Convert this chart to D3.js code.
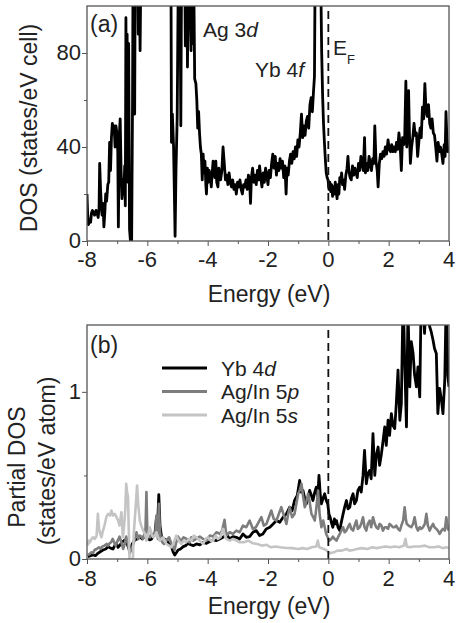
<!DOCTYPE html>
<html>
<head>
<meta charset="utf-8">
<script src="https://cdn.jsdelivr.net/npm/d3@7"></script>
<style>
  html, body { margin: 0; padding: 0; background: #fff; }
  svg { display: block; font-family: "Liberation Sans", Arial, sans-serif; }
</style>
</head>
<body>
<div id="chart"></div>
<script>
// Panel (a): total DOS, [energy eV, states/eV cell]
const dosTotal = [
  [-8.00, 20], [-7.98, 12], [-7.95, 7], [-7.92, 9], [-7.88, 8], [-7.85, 12], [-7.82, 13], [-7.78, 12],
  [-7.75, 11], [-7.72, 12], [-7.70, 13], [-7.67, 12], [-7.63, 10], [-7.60, 14], [-7.58, 33], [-7.55, 22],
  [-7.52, 14], [-7.50, 11], [-7.47, 16], [-7.44, 6], [-7.41, 12], [-7.38, 20], [-7.35, 17], [-7.31, 24],
  [-7.28, 25], [-7.25, 42], [-7.22, 30], [-7.19, 44], [-7.16, 50], [-7.13, 46], [-7.10, 49], [-7.07, 40],
  [-7.04, 49], [-7.01, 46], [-6.98, 38], [-6.96, 6], [-6.93, 45], [-6.90, 52], [-6.87, 30], [-6.84, 18],
  [-6.81, 26], [-6.78, 20], [-6.75, 32], [-6.73, 15], [-6.71, 95], [-6.69, 40], [-6.67, 88], [-6.64, 25],
  [-6.62, 84], [-6.59, 5], [-6.56, 0], [-6.52, 0], [-6.49, 60], [-6.47, 130], [-6.44, 110], [-6.42, 54],
  [-6.40, 120], [-6.36, 105], [-6.33, 130], [-6.30, 88], [-6.27, 115], [-6.24, 81], [-6.21, 120], [-6.18, 110],
  [-6.15, 130], [-6.05, 160], [-5.90, 200], [-5.70, 240], [-5.50, 220], [-5.35, 180], [-5.25, 140], [-5.22, 130],
  [-5.20, 42], [-5.17, 54], [-5.13, 40], [-5.08, 2], [-5.05, 30], [-5.01, 53], [-4.97, 120], [-4.93, 140],
  [-4.89, 49], [-4.86, 130], [-4.82, 110], [-4.78, 150], [-4.74, 83], [-4.70, 130], [-4.67, 74], [-4.63, 120],
  [-4.59, 110], [-4.55, 81], [-4.52, 130], [-4.49, 84], [-4.46, 110], [-4.43, 69], [-4.39, 67], [-4.36, 60],
  [-4.33, 48], [-4.30, 55], [-4.27, 46], [-4.24, 40], [-4.21, 37], [-4.18, 26], [-4.15, 37], [-4.12, 29],
  [-4.09, 34], [-4.06, 24], [-4.04, 20], [-4.01, 31], [-3.98, 25], [-3.95, 30], [-3.92, 28], [-3.88, 23],
  [-3.85, 29], [-3.82, 34], [-3.79, 30], [-3.76, 27], [-3.73, 34], [-3.70, 25], [-3.66, 23], [-3.63, 31],
  [-3.60, 28], [-3.57, 26], [-3.53, 30], [-3.49, 40], [-3.45, 33], [-3.41, 26], [-3.37, 28], [-3.33, 24],
  [-3.29, 29], [-3.25, 25], [-3.21, 23], [-3.17, 26], [-3.13, 22], [-3.09, 24], [-3.05, 20], [-3.01, 25],
  [-2.97, 23], [-2.93, 26], [-2.89, 22], [-2.85, 20], [-2.81, 24], [-2.77, 23], [-2.73, 26], [-2.69, 22],
  [-2.65, 28], [-2.61, 26], [-2.58, 16], [-2.55, 27], [-2.51, 31], [-2.47, 25], [-2.43, 28], [-2.39, 24],
  [-2.35, 30], [-2.31, 26], [-2.28, 32], [-2.24, 27], [-2.20, 23], [-2.16, 29], [-2.12, 25], [-2.08, 31],
  [-2.04, 28], [-2.00, 24], [-1.96, 30], [-1.92, 27], [-1.88, 33], [-1.84, 37], [-1.80, 31], [-1.76, 36],
  [-1.72, 28], [-1.68, 33], [-1.64, 30], [-1.60, 35], [-1.56, 31], [-1.52, 34], [-1.48, 27], [-1.44, 32],
  [-1.40, 20], [-1.37, 31], [-1.33, 28], [-1.29, 34], [-1.25, 37], [-1.21, 33], [-1.17, 38], [-1.13, 35],
  [-1.09, 40], [-1.05, 36], [-1.01, 43], [-0.97, 40], [-0.93, 46], [-0.89, 54], [-0.85, 44], [-0.81, 49],
  [-0.77, 45], [-0.73, 51], [-0.69, 53], [-0.65, 48], [-0.61, 58], [-0.57, 61], [-0.53, 55], [-0.49, 64],
  [-0.46, 70], [-0.44, 110], [-0.42, 200], [-0.38, 300], [-0.30, 250], [-0.26, 150], [-0.24, 100], [-0.22, 80],
  [-0.19, 62], [-0.16, 50], [-0.13, 42], [-0.10, 35], [-0.07, 29], [-0.04, 27], [-0.01, 26], [0.02, 22],
  [0.05, 25], [0.08, 21], [0.11, 24], [0.14, 19], [0.17, 23], [0.20, 20], [0.23, 25], [0.26, 21],
  [0.29, 18], [0.32, 24], [0.35, 20], [0.38, 27], [0.41, 25], [0.44, 29], [0.47, 24], [0.50, 26],
  [0.54, 22], [0.58, 28], [0.62, 31], [0.65, 36], [0.68, 30], [0.72, 27], [0.76, 26], [0.80, 32],
  [0.84, 28], [0.88, 31], [0.92, 29], [0.96, 27], [1.00, 33], [1.04, 30], [1.08, 36], [1.12, 33],
  [1.16, 30], [1.20, 44], [1.23, 29], [1.27, 33], [1.31, 30], [1.35, 36], [1.39, 33], [1.43, 30],
  [1.47, 35], [1.51, 33], [1.54, 49], [1.58, 34], [1.62, 30], [1.65, 23], [1.69, 33], [1.73, 37],
  [1.77, 35], [1.81, 38], [1.85, 36], [1.89, 40], [1.93, 37], [1.98, 43], [2.02, 39], [2.06, 38],
  [2.10, 41], [2.14, 38], [2.18, 40], [2.22, 38], [2.26, 42], [2.30, 39], [2.34, 46], [2.38, 41],
  [2.42, 30], [2.46, 44], [2.50, 41], [2.53, 43], [2.57, 68], [2.60, 40], [2.63, 49], [2.66, 64],
  [2.69, 45], [2.72, 33], [2.76, 40], [2.80, 44], [2.84, 50], [2.88, 45], [2.92, 46], [2.96, 36],
  [3.00, 42], [3.04, 48], [3.08, 44], [3.12, 57], [3.16, 52], [3.20, 67], [3.24, 55], [3.28, 53],
  [3.32, 58], [3.36, 50], [3.40, 48], [3.44, 52], [3.48, 46], [3.52, 45], [3.56, 40], [3.60, 34],
  [3.64, 42], [3.68, 38], [3.72, 40], [3.76, 37], [3.80, 33], [3.84, 41], [3.87, 36], [3.90, 55],
  [3.93, 44], [3.96, 38], [4.00, 40]
];

// Panel (b): partial DOS, [energy eV, states/eV atom]
const pdosYb4d = [
  [-7.97, 0.014], [-7.88, 0.02], [-7.80, 0.024], [-7.72, 0.02], [-7.64, 0.034], [-7.55, 0.045], [-7.47, 0.054],
  [-7.38, 0.06], [-7.30, 0.074], [-7.22, 0.065], [-7.14, 0.06], [-7.08, 0.08], [-7.03, 0.094], [-6.97, 0.07],
  [-6.92, 0.08], [-6.84, 0.10], [-6.75, 0.114], [-6.67, 0.09], [-6.59, 0.054], [-6.50, 0.09], [-6.42, 0.114],
  [-6.33, 0.12], [-6.25, 0.134], [-6.17, 0.12], [-6.09, 0.134], [-6.00, 0.125], [-5.92, 0.114], [-5.86, 0.12],
  [-5.81, 0.134], [-5.75, 0.15], [-5.70, 0.24], [-5.66, 0.20], [-5.62, 0.385], [-5.58, 0.20], [-5.53, 0.134],
  [-5.45, 0.12], [-5.37, 0.114], [-5.28, 0.09], [-5.20, 0.074], [-5.14, 0.04], [-5.09, 0.024], [-5.03, 0.04],
  [-4.98, 0.054], [-4.90, 0.06], [-4.81, 0.074], [-4.73, 0.08], [-4.65, 0.094], [-4.56, 0.085], [-4.48, 0.08],
  [-4.37, 0.09], [-4.26, 0.085], [-4.15, 0.10], [-4.04, 0.094], [-3.93, 0.105], [-3.82, 0.114], [-3.71, 0.11],
  [-3.60, 0.12], [-3.49, 0.13], [-3.38, 0.15], [-3.27, 0.12], [-3.16, 0.134], [-3.05, 0.13], [-2.94, 0.12],
  [-2.83, 0.15], [-2.72, 0.13], [-2.61, 0.134], [-2.50, 0.16], [-2.39, 0.17], [-2.28, 0.14], [-2.17, 0.15],
  [-2.06, 0.18], [-1.94, 0.19], [-1.83, 0.21], [-1.72, 0.23], [-1.61, 0.22], [-1.50, 0.25], [-1.39, 0.27],
  [-1.28, 0.31], [-1.20, 0.29], [-1.12, 0.35], [-1.03, 0.38], [-0.95, 0.47], [-0.90, 0.40], [-0.84, 0.41],
  [-0.78, 0.36], [-0.73, 0.33], [-0.67, 0.37], [-0.62, 0.41], [-0.56, 0.38], [-0.51, 0.35], [-0.45, 0.40],
  [-0.40, 0.43], [-0.35, 0.37], [-0.31, 0.50], [-0.27, 0.39], [-0.23, 0.33], [-0.18, 0.36], [-0.12, 0.39],
  [-0.07, 0.35], [-0.02, 0.33], [0.02, 0.27], [0.06, 0.25], [0.10, 0.22], [0.15, 0.19], [0.20, 0.24],
  [0.24, 0.21], [0.27, 0.23], [0.32, 0.19], [0.38, 0.17], [0.43, 0.22], [0.49, 0.27], [0.54, 0.31],
  [0.60, 0.35], [0.65, 0.30], [0.71, 0.31], [0.76, 0.36], [0.82, 0.39], [0.87, 0.33], [0.93, 0.35],
  [0.98, 0.41], [1.04, 0.43], [1.09, 0.40], [1.15, 0.50], [1.20, 0.65], [1.26, 0.45], [1.31, 0.51],
  [1.37, 0.53], [1.42, 0.48], [1.48, 0.75], [1.54, 0.50], [1.59, 0.62], [1.65, 0.67], [1.70, 0.56],
  [1.76, 0.63], [1.81, 0.70], [1.87, 0.79], [1.92, 0.68], [1.98, 0.83], [2.03, 0.74], [2.09, 0.87],
  [2.14, 0.80], [2.20, 0.78], [2.25, 0.92], [2.31, 1.13], [2.37, 0.83], [2.42, 0.93], [2.48, 1.60],
  [2.53, 1.19], [2.59, 0.79], [2.64, 1.50], [2.70, 1.03], [2.75, 1.30], [2.81, 1.23], [2.86, 1.10],
  [2.92, 1.03], [2.97, 1.15], [3.03, 0.97], [3.08, 1.60], [3.14, 1.50], [3.19, 1.35], [3.25, 1.60],
  [3.30, 1.45], [3.36, 1.39], [3.41, 1.36], [3.47, 1.31], [3.52, 1.26], [3.58, 1.23], [3.63, 0.87],
  [3.69, 1.02], [3.75, 0.95], [3.80, 0.87], [3.86, 1.07], [3.91, 1.60], [3.96, 1.10], [4.00, 1.03]
];

const pdosAgIn5p = [
  [-7.97, 0.024], [-7.91, 0.03], [-7.85, 0.04], [-7.80, 0.035], [-7.75, 0.054], [-7.68, 0.06], [-7.60, 0.07],
  [-7.55, 0.06], [-7.50, 0.074], [-7.42, 0.08], [-7.35, 0.09], [-7.30, 0.08], [-7.25, 0.094], [-7.20, 0.10],
  [-7.15, 0.12], [-7.10, 0.10], [-7.05, 0.08], [-6.98, 0.11], [-6.92, 0.134], [-6.86, 0.10], [-6.80, 0.06],
  [-6.75, 0.09], [-6.70, 0.134], [-6.64, 0.09], [-6.59, 0.034], [-6.54, 0.05], [-6.50, 0.07], [-6.43, 0.11],
  [-6.36, 0.16], [-6.30, 0.12], [-6.25, 0.14], [-6.20, 0.134], [-6.15, 0.12], [-6.10, 0.15], [-6.06, 0.18],
  [-6.03, 0.40], [-6.00, 0.16], [-5.97, 0.14], [-5.91, 0.13], [-5.85, 0.15], [-5.78, 0.14], [-5.73, 0.17],
  [-5.70, 0.26], [-5.67, 0.16], [-5.65, 0.12], [-5.62, 0.33], [-5.58, 0.16], [-5.55, 0.114], [-5.50, 0.10],
  [-5.45, 0.09], [-5.37, 0.11], [-5.28, 0.13], [-5.20, 0.09], [-5.14, 0.07], [-5.10, 0.054], [-5.04, 0.10],
  [-4.98, 0.134], [-4.93, 0.12], [-4.87, 0.11], [-4.80, 0.13], [-4.70, 0.12], [-4.60, 0.10], [-4.54, 0.13],
  [-4.48, 0.11], [-4.38, 0.12], [-4.26, 0.134], [-4.15, 0.12], [-4.04, 0.11], [-3.93, 0.14], [-3.82, 0.134],
  [-3.71, 0.16], [-3.60, 0.15], [-3.52, 0.17], [-3.44, 0.234], [-3.38, 0.14], [-3.27, 0.16], [-3.16, 0.15],
  [-3.05, 0.17], [-2.94, 0.16], [-2.83, 0.20], [-2.72, 0.19], [-2.61, 0.23], [-2.50, 0.18], [-2.40, 0.19],
  [-2.31, 0.22], [-2.22, 0.25], [-2.14, 0.20], [-2.05, 0.21], [-1.97, 0.25], [-1.89, 0.29], [-1.81, 0.24],
  [-1.72, 0.23], [-1.64, 0.27], [-1.56, 0.31], [-1.47, 0.26], [-1.39, 0.21], [-1.33, 0.27], [-1.28, 0.31],
  [-1.20, 0.25], [-1.12, 0.27], [-1.06, 0.33], [-1.00, 0.39], [-0.95, 0.41], [-0.89, 0.45], [-0.84, 0.38],
  [-0.78, 0.31], [-0.72, 0.35], [-0.67, 0.39], [-0.61, 0.33], [-0.56, 0.27], [-0.50, 0.25], [-0.45, 0.23],
  [-0.40, 0.30], [-0.34, 0.41], [-0.29, 0.27], [-0.23, 0.19], [-0.17, 0.23], [-0.12, 0.19], [-0.07, 0.15],
  [-0.02, 0.13], [0.04, 0.11], [0.10, 0.12], [0.15, 0.134], [0.21, 0.12], [0.27, 0.11], [0.32, 0.13],
  [0.38, 0.15], [0.43, 0.17], [0.49, 0.19], [0.54, 0.16], [0.60, 0.17], [0.65, 0.19], [0.71, 0.21],
  [0.76, 0.18], [0.82, 0.17], [0.87, 0.20], [0.93, 0.23], [0.98, 0.18], [1.04, 0.19], [1.09, 0.21],
  [1.15, 0.25], [1.20, 0.19], [1.26, 0.17], [1.31, 0.21], [1.37, 0.23], [1.42, 0.19], [1.48, 0.25],
  [1.54, 0.21], [1.59, 0.19], [1.65, 0.18], [1.70, 0.21], [1.76, 0.20], [1.81, 0.17], [1.87, 0.19],
  [1.92, 0.19], [1.98, 0.18], [2.03, 0.21], [2.09, 0.20], [2.14, 0.19], [2.20, 0.19], [2.25, 0.20],
  [2.31, 0.18], [2.37, 0.17], [2.42, 0.20], [2.48, 0.23], [2.53, 0.31], [2.57, 0.24], [2.60, 0.21],
  [2.66, 0.20], [2.75, 0.19], [2.81, 0.21], [2.86, 0.25], [2.92, 0.19], [2.97, 0.17], [3.03, 0.19],
  [3.08, 0.18], [3.14, 0.19], [3.20, 0.21], [3.25, 0.27], [3.30, 0.20], [3.36, 0.17], [3.41, 0.19],
  [3.47, 0.21], [3.52, 0.19], [3.58, 0.18], [3.63, 0.17], [3.69, 0.15], [3.75, 0.17], [3.80, 0.18],
  [3.86, 0.17], [3.91, 0.25], [3.96, 0.18], [4.00, 0.17]
];

const pdosAgIn5s = [
  [-7.97, 0.08], [-7.94, 0.11], [-7.90, 0.10], [-7.85, 0.12], [-7.80, 0.13], [-7.74, 0.12], [-7.68, 0.14],
  [-7.64, 0.27], [-7.60, 0.18], [-7.56, 0.15], [-7.52, 0.13], [-7.47, 0.17], [-7.42, 0.20], [-7.36, 0.25],
  [-7.30, 0.27], [-7.24, 0.26], [-7.19, 0.29], [-7.14, 0.26], [-7.08, 0.27], [-7.02, 0.25], [-6.97, 0.23],
  [-6.92, 0.20], [-6.86, 0.28], [-6.81, 0.13], [-6.77, 0.20], [-6.73, 0.30], [-6.70, 0.45], [-6.67, 0.40],
  [-6.64, 0.37], [-6.62, 0.20], [-6.59, 0.0], [-6.53, 0.0], [-6.48, 0.0], [-6.45, 0.15], [-6.42, 0.23],
  [-6.38, 0.33], [-6.34, 0.44], [-6.30, 0.32], [-6.25, 0.23], [-6.20, 0.20], [-6.14, 0.17], [-6.08, 0.15],
  [-6.03, 0.11], [-5.98, 0.14], [-5.92, 0.19], [-5.86, 0.15], [-5.81, 0.13], [-5.75, 0.14], [-5.70, 0.16],
  [-5.64, 0.13], [-5.59, 0.11], [-5.53, 0.12], [-5.48, 0.13], [-5.42, 0.11], [-5.37, 0.09], [-5.28, 0.08],
  [-5.20, 0.07], [-5.12, 0.10], [-5.04, 0.14], [-4.96, 0.11], [-4.87, 0.09], [-4.79, 0.11], [-4.71, 0.10],
  [-4.62, 0.12], [-4.54, 0.11], [-4.46, 0.14], [-4.38, 0.13], [-4.27, 0.11], [-4.15, 0.09], [-4.07, 0.12],
  [-3.99, 0.13], [-3.90, 0.11], [-3.82, 0.11], [-3.74, 0.14], [-3.66, 0.12], [-3.58, 0.13], [-3.49, 0.18],
  [-3.43, 0.14], [-3.38, 0.12], [-3.27, 0.11], [-3.16, 0.12], [-3.05, 0.11], [-2.94, 0.10], [-2.80, 0.10],
  [-2.65, 0.11], [-2.50, 0.094], [-2.35, 0.09], [-2.20, 0.08], [-2.05, 0.085], [-1.90, 0.07], [-1.75, 0.075],
  [-1.60, 0.07], [-1.40, 0.066], [-1.20, 0.065], [-1.00, 0.06], [-0.85, 0.065], [-0.70, 0.06], [-0.55, 0.07],
  [-0.40, 0.075], [-0.35, 0.11], [-0.30, 0.07], [-0.15, 0.06], [-0.05, 0.05], [0.05, 0.034], [0.18, 0.04],
  [0.30, 0.05], [0.45, 0.05], [0.60, 0.06], [0.70, 0.05], [0.82, 0.054], [0.95, 0.06], [1.10, 0.065],
  [1.30, 0.06], [1.45, 0.07], [1.60, 0.065], [1.75, 0.07], [1.90, 0.075], [2.05, 0.07], [2.20, 0.075],
  [2.35, 0.07], [2.50, 0.08], [2.56, 0.12], [2.60, 0.075], [2.70, 0.07], [2.85, 0.075], [3.03, 0.075],
  [3.20, 0.08], [3.35, 0.07], [3.50, 0.07], [3.65, 0.075], [3.80, 0.065], [3.90, 0.07], [4.00, 0.066]
];

const energyTicks = [-8, -6, -4, -2, 0, 2, 4];
const energyMinorTicks = [-7, -5, -3, -1, 1, 3];
const dosTicks = [0, 40, 80];
const dosMinorTicks = [20, 60];
const pdosTicks = [0, 1];
const pdosMinorTicks = [0.5];

const legendItems = [
  { name: "Yb 4", orb: "d", color: "#000000" },
  { name: "Ag/In 5", orb: "p", color: "#7d7d7d" },
  { name: "Ag/In 5", orb: "s", color: "#c4c4c4" }
];

const W = 457, H = 623;
const left = 87, right = 449;

const svg = d3.select("#chart").append("svg")
  .attr("width", W).attr("height", H);

const x = d3.scaleLinear().domain([-8, 4]).range([left, right]);

function drawPanel({ top, bottom, yMax, ticks, minorTicks, series, tickBaseline, id }) {
  const y = d3.scaleLinear().domain([0, yMax]).range([bottom, top]);
  const g = svg.append("g");

  g.append("clipPath").attr("id", id)
    .append("rect")
    .attr("x", left).attr("y", top)
    .attr("width", right - left).attr("height", bottom - top);

  // Data lines
  const line = d3.line().x((d) => x(d[0])).y((d) => y(d[1]));
  const lines = g.append("g").attr("clip-path", `url(#${id})`);
  series.forEach((s) => {
    lines.append("path")
      .attr("d", line(s.data))
      .attr("fill", "none")
      .attr("stroke", s.color)
      .attr("stroke-width", s.width)
      .attr("stroke-linejoin", "round");
  });

  // E_F dashed line
  g.append("line")
    .attr("x1", x(0)).attr("x2", x(0))
    .attr("y1", top + 5).attr("y2", bottom)
    .attr("stroke", "#111").attr("stroke-width", 1.8)
    .attr("stroke-dasharray", "8,5");

  // Frame
  g.append("rect")
    .attr("x", left).attr("y", top)
    .attr("width", right - left).attr("height", bottom - top)
    .attr("fill", "none").attr("stroke", "#555").attr("stroke-width", 1.3);

  // X axis ticks
  g.append("g").attr("transform", `translate(0,${bottom})`)
    .call(d3.axisBottom(x).tickValues(energyTicks).tickSize(5).tickFormat(() => ""))
    .call((a) => a.select(".domain").remove())
    .call((a) => a.selectAll("line").attr("stroke", "#555"));
  g.append("g").attr("transform", `translate(0,${bottom})`)
    .call(d3.axisBottom(x).tickValues(energyMinorTicks).tickSize(3).tickFormat(() => ""))
    .call((a) => a.select(".domain").remove())
    .call((a) => a.selectAll("line").attr("stroke", "#555"));

  g.selectAll("text.xtick").data(energyTicks).join("text")
    .attr("class", "xtick")
    .attr("x", (d) => x(d))
    .attr("y", tickBaseline)
    .attr("text-anchor", "middle")
    .attr("font-size", "22px")
    .attr("fill", "#222")
    .text((d) => d);

  // Y axis ticks
  g.append("g").attr("transform", `translate(${left},0)`)
    .call(d3.axisLeft(y).tickValues(ticks).tickSize(5).tickFormat(() => ""))
    .call((a) => a.select(".domain").remove())
    .call((a) => a.selectAll("line").attr("stroke", "#555"));
  g.append("g").attr("transform", `translate(${left},0)`)
    .call(d3.axisLeft(y).tickValues(minorTicks).tickSize(3).tickFormat(() => ""))
    .call((a) => a.select(".domain").remove())
    .call((a) => a.selectAll("line").attr("stroke", "#555"));

  g.selectAll("text.ytick").data(ticks).join("text")
    .attr("class", "ytick")
    .attr("x", left - 6)
    .attr("y", (d) => y(d) + 7)
    .attr("text-anchor", "end")
    .attr("font-size", "22px")
    .attr("fill", "#222")
    .text((d) => d);

  return { g, y };
}

// Panel (a)
const a = drawPanel({
  id: "clipA", top: 6, bottom: 241, yMax: 100,
  ticks: dosTicks, minorTicks: dosMinorTicks,
  tickBaseline: 267,
  series: [{ data: dosTotal, color: "#000", width: 2.8 }]
});

a.g.append("text").attr("x", 269).attr("y", 302)
  .attr("text-anchor", "middle").attr("font-size", "23px").attr("fill", "#222")
  .text("Energy (eV)");
a.g.append("text")
  .attr("transform", "translate(37,128) rotate(-90)")
  .attr("text-anchor", "middle").attr("font-size", "23px").attr("fill", "#222")
  .text("DOS (states/eV cell)");
a.g.append("text").attr("x", 90).attr("y", 32)
  .attr("font-size", "23px").attr("fill", "#222").text("(a)");

const ag = a.g.append("text").attr("x", 203).attr("y", 37)
  .attr("font-size", "21px").attr("fill", "#222");
ag.append("tspan").text("Ag 3");
ag.append("tspan").attr("font-style", "italic").text("d");

const yb = a.g.append("text").attr("x", 255).attr("y", 77)
  .attr("font-size", "21px").attr("fill", "#222");
yb.append("tspan").text("Yb 4");
yb.append("tspan").attr("font-style", "italic").text("f");

const ef = a.g.append("text").attr("x", 333).attr("y", 55)
  .attr("font-size", "21px").attr("fill", "#222");
ef.append("tspan").text("E");
ef.append("tspan").attr("font-size", "13px").attr("dy", 9).text("F");

// Panel (b)
const b = drawPanel({
  id: "clipB", top: 325, bottom: 559, yMax: 1.4,
  ticks: pdosTicks, minorTicks: pdosMinorTicks,
  tickBaseline: 586,
  series: [
    { data: pdosYb4d, color: legendItems[0].color, width: 2.8 },
    { data: pdosAgIn5p, color: legendItems[1].color, width: 2.6 },
    { data: pdosAgIn5s, color: legendItems[2].color, width: 2.6 }
  ]
});

b.g.append("text").attr("x", 269).attr("y", 614)
  .attr("text-anchor", "middle").attr("font-size", "23px").attr("fill", "#222")
  .text("Energy (eV)");
b.g.append("text")
  .attr("transform", "translate(25,467) rotate(-90)")
  .attr("text-anchor", "middle").attr("font-size", "23px").attr("fill", "#222")
  .text("Partial DOS");
b.g.append("text")
  .attr("transform", "translate(55,461) rotate(-90)")
  .attr("text-anchor", "middle").attr("font-size", "23px").attr("fill", "#222")
  .text("(states/eV atom)");
b.g.append("text").attr("x", 90).attr("y", 353)
  .attr("font-size", "23px").attr("fill", "#222").text("(b)");

// Legend
const legend = b.g.append("g");
legendItems.forEach((d, i) => {
  const ly = 368 + i * 23.5;
  legend.append("line")
    .attr("x1", 162).attr("x2", 207)
    .attr("y1", ly).attr("y2", ly)
    .attr("stroke", d.color).attr("stroke-width", 3);
  const t = legend.append("text").attr("x", 221).attr("y", ly + 7.5)
    .attr("font-size", "21px").attr("fill", "#222");
  t.append("tspan").text(d.name);
  t.append("tspan").attr("font-style", "italic").text(d.orb);
});
</script>
</body>
</html>
